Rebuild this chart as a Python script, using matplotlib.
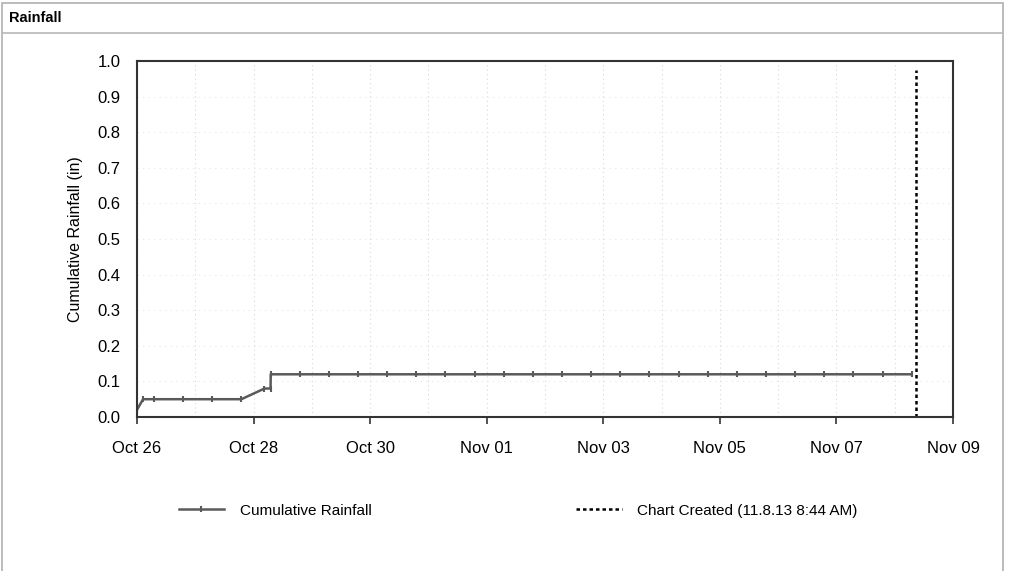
import matplotlib
matplotlib.use("Agg")
import matplotlib.pyplot as plt
import matplotlib.dates as mdates
import pandas as pd
from matplotlib.patches import Rectangle
from matplotlib.lines import Line2D

plt.rcParams['font.family'] = ['Liberation Sans', 'DejaVu Sans']

# cumulative rainfall readings (in)
times = [
    "2013-10-26 00:00", "2013-10-26 02:30", "2013-10-26 07:00", "2013-10-26 19:00",
    "2013-10-27 07:00", "2013-10-27 19:00", "2013-10-28 04:30", "2013-10-28 07:00",
    "2013-10-28 07:05", "2013-10-28 19:00", "2013-10-29 07:00", "2013-10-29 19:00",
    "2013-10-30 07:00", "2013-10-30 19:00", "2013-10-31 07:00", "2013-10-31 19:00",
    "2013-11-01 07:00", "2013-11-01 19:00", "2013-11-02 07:00", "2013-11-02 19:00",
    "2013-11-03 07:00", "2013-11-03 19:00", "2013-11-04 07:00", "2013-11-04 19:00",
    "2013-11-05 07:00", "2013-11-05 19:00", "2013-11-06 07:00", "2013-11-06 19:00",
    "2013-11-07 07:00", "2013-11-07 19:00", "2013-11-08 07:00",
]
rain = [
    0.02, 0.05, 0.05, 0.05,
    0.05, 0.05, 0.08, 0.08,
    0.12, 0.12, 0.12, 0.12,
    0.12, 0.12, 0.12, 0.12,
    0.12, 0.12, 0.12, 0.12,
    0.12, 0.12, 0.12, 0.12,
    0.12, 0.12, 0.12, 0.12,
    0.12, 0.12, 0.12,
]
created = "2013-11-08 08:44"
x_start, x_end = "2013-10-26", "2013-11-09"
y_ticks = [0.0, 0.1, 0.2, 0.3, 0.4, 0.5, 0.6, 0.7, 0.8, 0.9, 1.0]

t = pd.to_datetime(times)

fig = plt.figure(figsize=(10.13, 5.71), dpi=100)

# panel frame and header
fig.patches.append(Rectangle((0.002, -0.01), 0.988, 1.005, transform=fig.transFigure,
                             fill=False, edgecolor="#b0b0b0", lw=1.2))
fig.lines.append(Line2D([0.002, 0.99], [0.942, 0.942], transform=fig.transFigure,
                        color="#b8b8b8", lw=1.2))
fig.text(0.009, 0.968, "Rainfall", fontsize=10.5, fontweight="bold", va="center", ha="left")

ax = fig.add_axes([0.1352, 0.2697, 0.8056, 0.6233])

ax.plot(t, rain, color="#5a5a5a", lw=1.8, marker="|", markersize=5, mew=1.5,
        label="Cumulative Rainfall")
ax.axvline(pd.Timestamp(created), ymax=0.975, color="black", lw=1.8, ls=(0, (1.4, 1.2)),
           label="Chart Created (11.8.13 8:44 AM)")

ax.set_xlim(pd.Timestamp(x_start), pd.Timestamp(x_end))
ax.set_ylim(0, 1.0)
ax.set_yticks(y_ticks)
ax.set_yticklabels([f"{v:.1f}" for v in y_ticks])
ax.xaxis.set_major_locator(mdates.DayLocator(interval=2))
ax.xaxis.set_minor_locator(mdates.DayLocator())
ax.xaxis.set_major_formatter(mdates.DateFormatter("%b %d"))

ax.grid(True, which="both", axis="x", color="#d8d8d8", ls=(0, (1, 3)), lw=0.8)
ax.grid(True, axis="y", color="#e6e6e6", ls=(0, (1, 4)), lw=0.8)

for s in ax.spines.values():
    s.set_color("#333333")
    s.set_linewidth(1.5)
ax.tick_params(axis="x", which="major", length=5, width=1.2, color="#333333",
               labelsize=12, pad=12)
ax.tick_params(axis="x", which="minor", length=0)
ax.tick_params(axis="y", length=0, labelsize=12, pad=12)
ax.set_ylabel("Cumulative Rainfall (in)", fontsize=11.5, labelpad=10)

ax.legend(loc="upper center", bbox_to_anchor=(0.467, -0.205), ncol=2, frameon=False,
          fontsize=11, handlelength=3.0, columnspacing=13.4, handletextpad=1.0)

fig.savefig("out.png", dpi=100, facecolor="white")
